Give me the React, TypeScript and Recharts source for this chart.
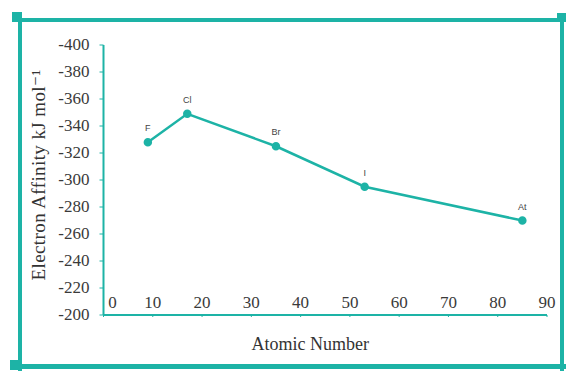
import React from 'react';
import { LineChart, Line, XAxis, YAxis, LabelList } from 'recharts';

const elements = ['F', 'Cl', 'Br', 'I', 'At'];
const atomicNumbers = [9, 17, 35, 53, 85];
const affinities = [-328, -349, -325, -295, -270];
const xTicks = [0, 10, 20, 30, 40, 50, 60, 70, 80, 90];
const yTicks = [-400, -380, -360, -340, -320, -300, -280, -260, -240, -220, -200];

const chartData = elements.map((name, i) => ({
  name,
  z: atomicNumbers[i],
  ea: affinities[i],
}));

const TEAL = '#1db3a6';
const SERIF = '"Liberation Serif", "DejaVu Serif", serif';

const XTick = (props: any) => {
  const { x, y, payload } = props;
  const shift = payload.value === 0 ? 9 : 0;
  return (
    <text
      x={x + shift}
      y={y - 11}
      textAnchor="middle"
      style={{ fontFamily: SERIF, fontSize: 17 }}
      fill="#3a3a3a"
    >
      {payload.value}
    </text>
  );
};

const YTick = (props: any) => {
  const { x, y, payload } = props;
  return (
    <text
      x={x}
      y={y + 5}
      textAnchor="end"
      style={{ fontFamily: SERIF, fontSize: 17 }}
      fill="#3a3a3a"
    >
      {payload.value}
    </text>
  );
};

const bar = (style: React.CSSProperties) => (
  <div style={{ position: 'absolute', background: TEAL, ...style }} />
);

export default function App() {
  return (
    <div style={{ position: 'absolute', left: 0, top: 0, width: 568, height: 371, background: '#fff' }}>
      <LineChart
        width={568}
        height={371}
        data={chartData}
        margin={{ top: 45, right: 21, bottom: 26, left: 0 }}
      >
        <XAxis
          dataKey="z"
          type="number"
          domain={[0, 90]}
          ticks={xTicks}
          height={30}
          axisLine={{ stroke: TEAL, strokeWidth: 2 }}
          tickLine={{ stroke: TEAL }}
          tickSize={2}
          tick={<XTick />}
          label={{
            value: 'Atomic Number',
            position: 'insideBottom',
            offset: -5,
            dx: -15,
            style: { fontFamily: SERIF, fontSize: 18, fill: '#333' },
          }}
        />
        <YAxis
          type="number"
          reversed
          domain={[-400, -200]}
          ticks={yTicks}
          width={103.5}
          interval={0}
          axisLine={{ stroke: TEAL, strokeWidth: 2 }}
          tickLine={{ stroke: TEAL }}
          tickSize={4}
          tickMargin={10}
          tick={<YTick />}
          label={{
            value: 'Electron Affinity kJ mol⁻¹',
            angle: -90,
            position: 'insideLeft',
            offset: 38,
            dy: -5,
            style: { textAnchor: 'middle', fontFamily: SERIF, fontSize: 19, letterSpacing: 0.4, fill: '#333' },
          }}
        />
        <Line
          dataKey="ea"
          stroke={TEAL}
          strokeWidth={2.5}
          dot={{ r: 3, fill: TEAL, stroke: TEAL }}
          isAnimationActive={false}
        >
          <LabelList
            dataKey="name"
            position="top"
            offset={11}
            style={{ fontFamily: 'Arial, "Liberation Sans", sans-serif', fontSize: 9, fill: '#444' }}
          />
        </Line>
      </LineChart>
      {bar({ left: 12, top: 18, width: 554, height: 4 })}
      {bar({ left: 18, top: 12, width: 4, height: 359 })}
      {bar({ left: 560, top: 13, width: 4, height: 358 })}
      {bar({ left: 10, top: 364, width: 556, height: 5 })}
      {bar({ left: 12, top: 12, width: 10, height: 10 })}
      {bar({ left: 557, top: 13, width: 9, height: 9 })}
      {bar({ left: 10, top: 360, width: 10, height: 10 })}
    </div>
  );
}
